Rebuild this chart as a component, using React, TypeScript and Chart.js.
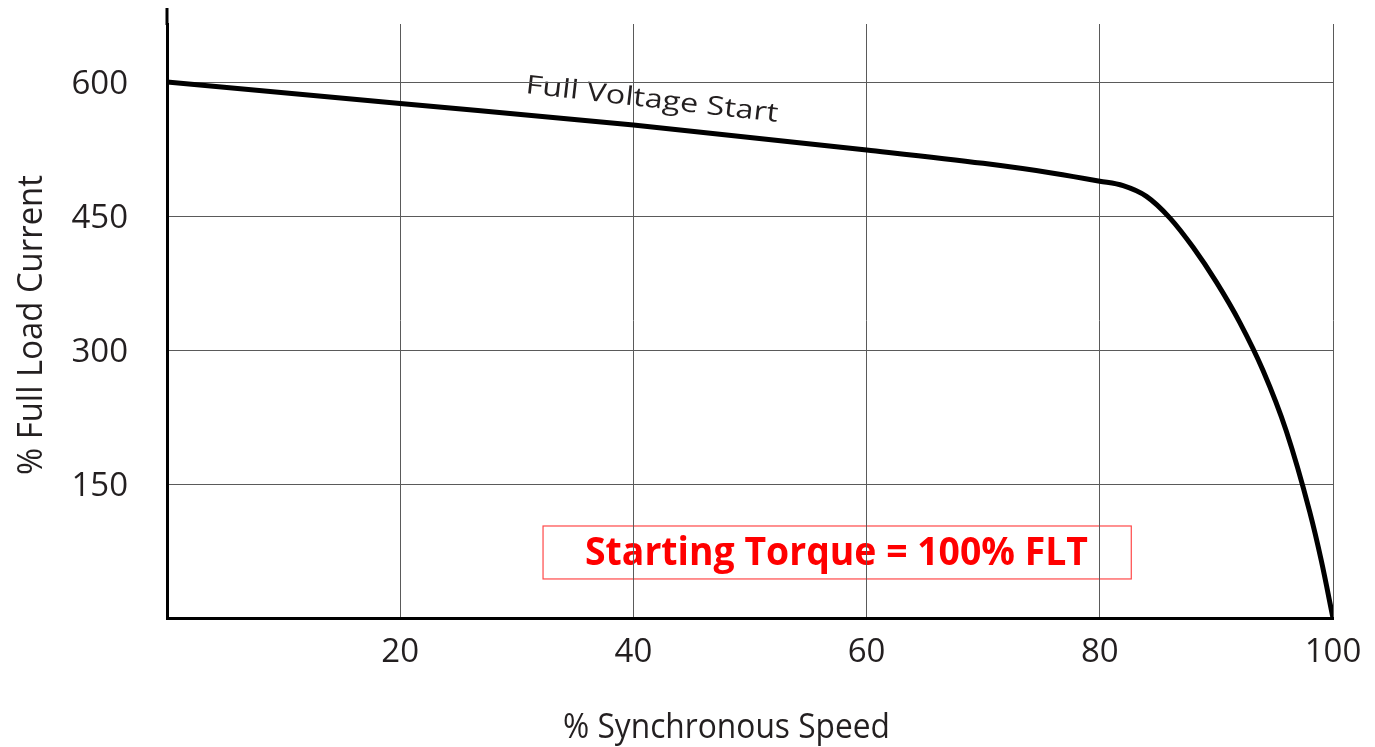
import React, { useEffect, useRef } from "react";
import { Chart, registerables } from "chart.js";

Chart.register(...registerables);

// ---- data ----
const speedPct = [0, 20, 40, 60, 70, 76, 80, 82, 84, 86, 88, 90, 92, 94, 96, 98, 99, 100];
const currentPct = [600, 576, 552, 524, 509, 498, 489, 484, 472, 448, 415, 376, 331, 277, 209, 119, 64, 0];
const xTicks = [20, 40, 60, 80, 100];
const yTicks = [150, 300, 450, 600];
const xTitle = "% Synchronous Speed";
const yTitle = "% Full Load Current";
const curveLabel = "Full Voltage Start";
const noteText = "Starting Torque = 100% FLT";

// annotation anchors (data units)
const curveLabelAt = { x: 30.7, y: 587.7 };
const noteBox = { x0: 32.25, x1: 82.7, y0: 103, y1: 43.7 };
const noteTextAt = { x: 35.85, y: 59.3 };

const W = 1375;
const H = 747;
const FONT = "'Open Sans', 'DejaVu Sans', sans-serif";

function fitText(
  ctx: CanvasRenderingContext2D,
  text: string,
  x: number,
  y: number,
  targetW: number,
  font: string,
  color: string,
  rot = 0
) {
  ctx.save();
  ctx.font = font;
  ctx.fillStyle = color;
  ctx.textAlign = "left";
  ctx.textBaseline = "alphabetic";
  const w = ctx.measureText(text).width;
  const s = targetW / w;
  ctx.translate(x, y);
  ctx.rotate(rot);
  ctx.scale(s, 1);
  ctx.fillText(text, 0, 0);
  ctx.restore();
}

const annotPlugin = {
  id: "annot",
  beforeDraw(chart: any) {
    const { ctx, scales } = chart;
    const xs = scales.x;
    const ys = scales.y;
    const bx0 = xs.getPixelForValue(noteBox.x0);
    const bx1 = xs.getPixelForValue(noteBox.x1);
    const by0 = ys.getPixelForValue(noteBox.y0);
    const by1 = ys.getPixelForValue(noteBox.y1);
    ctx.save();
    ctx.strokeStyle = "rgba(255,40,40,0.85)";
    ctx.lineWidth = 1.2;
    ctx.strokeRect(bx0, by0, bx1 - bx0, by1 - by0);
    ctx.restore();
    fitText(
      ctx,
      noteText,
      xs.getPixelForValue(noteTextAt.x),
      ys.getPixelForValue(noteTextAt.y),
      503,
      `bold 39px ${FONT}`,
      "#ff0000"
    );
    fitText(
      ctx,
      curveLabel,
      xs.getPixelForValue(curveLabelAt.x),
      ys.getPixelForValue(curveLabelAt.y),
      254,
      `26px ${FONT}`,
      "#231f20",
      (6.5 * Math.PI) / 180
    );
  },
  afterDraw(chart: any) {
    const { ctx, chartArea } = chart;
    ctx.save();
    ctx.strokeStyle = "#000";
    ctx.lineWidth = 3;
    ctx.beginPath();
    ctx.moveTo(chartArea.left, 8);
    ctx.lineTo(chartArea.left, chartArea.top + 1);
    ctx.stroke();
    ctx.restore();
    fitText(ctx, xTitle, 563, 738, 327, `34px ${FONT}`, "#231f20");
    fitText(ctx, yTitle, 42, 475, 300, `34px ${FONT}`, "#231f20", -Math.PI / 2);
  },
};

export default function App() {
  const ref = useRef<HTMLCanvasElement | null>(null);

  useEffect(() => {
    document.body.style.margin = "0";
    const canvas = ref.current;
    if (!canvas) return;
    const chart = new Chart(canvas, {
      type: "line",
      data: {
        datasets: [
          {
            data: speedPct.map((s, i) => ({ x: s, y: currentPct[i] })),
            borderColor: "#000",
            borderWidth: 5,
            pointRadius: 0,
            fill: false,
            cubicInterpolationMode: "monotone",
            borderCapStyle: "round",
            borderJoinStyle: "round",
          },
        ],
      },
      options: {
        responsive: false,
        animation: false,
        devicePixelRatio: 1,
        layout: { padding: { left: 0, top: 24, right: 42, bottom: 0 } },
        plugins: {
          legend: { display: false },
          tooltip: { enabled: false },
          title: { display: false },
        },
        scales: {
          x: {
            type: "linear",
            min: 0,
            max: 100,
            afterBuildTicks: (scale: any) => {
              scale.ticks = xTicks.map((v) => ({ value: v }));
            },
            afterFit: (scale: any) => {
              scale.height = H - 618;
              scale.paddingLeft = 0;
              scale.paddingRight = 0;
            },
            grid: { color: "#5a5a5a", lineWidth: 1, drawTicks: false },
            border: { color: "#000", width: 3 },
            ticks: {
              padding: 15,
              color: "#231f20",
              font: { family: FONT, size: 33 },
              maxRotation: 0,
            },
          },
          y: {
            type: "linear",
            min: 0,
            max: 665,
            afterBuildTicks: (scale: any) => {
              scale.ticks = yTicks.map((v) => ({ value: v }));
            },
            afterFit: (scale: any) => {
              scale.width = 167;
              scale.paddingTop = 0;
              scale.paddingBottom = 0;
            },
            grid: { color: "#5a5a5a", lineWidth: 1, drawTicks: false },
            border: { color: "#000", width: 3 },
            ticks: {
              padding: 39,
              labelOffset: 3,
              color: "#231f20",
              font: { family: FONT, size: 33 },
            },
          },
        },
      },
      plugins: [annotPlugin],
    } as any);
    return () => chart.destroy();
  }, []);

  return (
    <div style={{ width: W, height: H, background: "#fff" }}>
      <canvas ref={ref} width={W} height={H} style={{ display: "block" }} />
    </div>
  );
}
